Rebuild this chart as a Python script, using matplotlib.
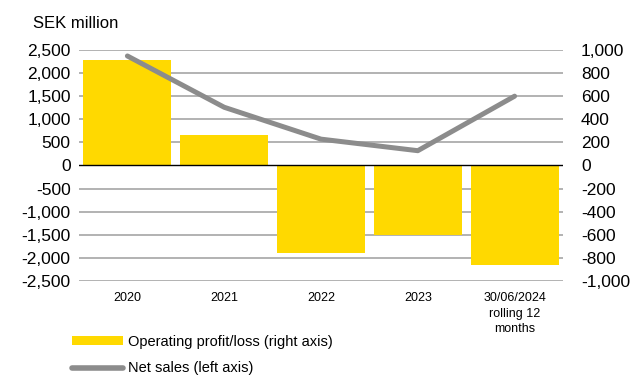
import matplotlib.pyplot as plt
from matplotlib.patches import Patch
from matplotlib.lines import Line2D
from matplotlib.ticker import FuncFormatter

plt.rcParams['font.family'] = ['Liberation Sans', 'DejaVu Sans']

# Data (SEK million)
periods = ['2020', '2021', '2022', '2023', '30/06/2024\nrolling 12\nmonths']
net_sales = [2370, 1260, 570, 320, 1500]          # left axis
operating_result = [910, 261, -754, -603, -864]   # right axis

BAR_COLOR = '#FFD900'
LINE_COLOR = '#8C8C8C'
GRID_COLOR = '#A6A6A6'


def thousands(v, pos):
    return f'{int(v):,}'


def main():
    fig = plt.figure(figsize=(6.34, 3.76), dpi=100)
    ax = fig.add_axes([0.1246, 0.2527, 0.7634, 0.6144])
    ax2 = ax.twinx()

    # bars behind, line on top
    ax.set_zorder(2)
    ax.patch.set_visible(False)
    ax2.set_zorder(1)

    x = list(range(len(periods)))

    ax2.set_ylim(-1000, 1000)
    ax2.set_yticks(range(-1000, 1001, 200))
    for t in range(-1000, 1001, 200):
        if t != 0:
            ax2.axhline(t, color=GRID_COLOR, lw=1.2, zorder=0)
    ax2.bar(x, operating_result, width=0.91, color=BAR_COLOR, zorder=2)
    ax2.axhline(0, color='black', lw=1.0, zorder=3)

    ax.plot(x, net_sales, color=LINE_COLOR, lw=3.6, solid_capstyle='round',
            solid_joinstyle='round', zorder=4)
    ax.set_ylim(-2500, 2500)
    ax.set_yticks(range(-2500, 2501, 500))
    ax.set_xlim(-0.5, len(periods) - 0.5)
    ax.set_xticks(x)
    ax.set_xticklabels(periods, fontsize=9, linespacing=1.4)

    ax.yaxis.set_major_formatter(FuncFormatter(thousands))
    ax2.yaxis.set_major_formatter(FuncFormatter(thousands))

    for a in (ax, ax2):
        for s in a.spines.values():
            s.set_visible(False)
    ax.tick_params(axis='y', length=0, labelsize=12.5, pad=6)
    ax2.tick_params(axis='y', length=0, labelsize=12.5, pad=13)
    ax.tick_params(axis='x', length=0, pad=8)

    fig.text(33 / 634, 1 - 23 / 376, 'SEK million', fontsize=12,
             va='center', ha='left')

    handles = [Patch(facecolor=BAR_COLOR, edgecolor='none'),
               Line2D([0], [0], color=LINE_COLOR, lw=4, solid_capstyle='round')]
    labels = ['Operating profit/loss (right axis)', 'Net sales (left axis)']
    fig.legend(handles, labels, loc='upper left',
               bbox_to_anchor=(72 / 634, 1 - 335 / 376), frameon=False,
               fontsize=10.5, handlelength=3.5, handleheight=0.6,
               handletextpad=0.35, labelspacing=0.85, borderpad=0,
               borderaxespad=0)

    fig.savefig('out.png', dpi=100)


if __name__ == '__main__':
    main()
